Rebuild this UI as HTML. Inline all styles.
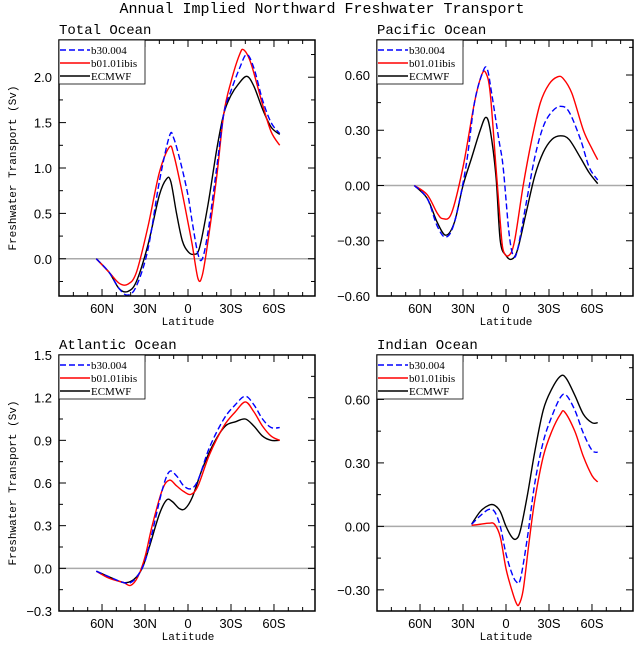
<!DOCTYPE html>
<html><head><meta charset="utf-8"><style>
body{margin:0;background:#fff}
svg text{font-family:"Liberation Serif",serif;fill:#000}
</style></head><body>
<svg id="s" width="639" height="650" xmlns="http://www.w3.org/2000/svg"></svg>
<script>
const S=document.getElementById('s');let h='';
h+='<text x="322" y="13" font-size="15" text-anchor="middle" font-family="Liberation Mono" style="font-family:\'Liberation Mono\',monospace">Annual Implied Northward Freshwater Transport</text>';
function panel(o){
 const L=o.x,T=o.y,W=256,H=256,R=L+W,B=T+H,cx=L+129,k=1.433;
 const X=lat=>cx-lat*k, Y=v=>T+(o.ymax-v)/(o.ymax-o.ymin)*H;
 h+=`<text x="${L}" y="${T-6}" font-size="14" style="font-family:'Liberation Mono',monospace">${o.title}</text>`;
 h+=`<line x1="${L}" x2="${R}" y1="${Y(0)}" y2="${Y(0)}" stroke="#aaa" stroke-width="1.5"/>`;
 const sers=[[o.k,'#000',''],[o.r,'#f00',''],[o.b,'#00f','6,3']];
 for(const [d,c,da] of sers){
  const p=d.map(q=>[X(q[0]),Y(q[1])]);let s=`M${p[0][0]},${p[0][1]}`;
  for(let i=0;i<p.length-1;i++){const p0=p[Math.max(0,i-1)],p1=p[i],p2=p[i+1],p3=p[Math.min(p.length-1,i+2)];
   s+=` C${p1[0]+(p2[0]-p0[0])/6},${p1[1]+(p2[1]-p0[1])/6} ${p2[0]-(p3[0]-p1[0])/6},${p2[1]-(p3[1]-p1[1])/6} ${p2[0]},${p2[1]}`;}
  h+=`<path d="${s}" fill="none" stroke="${c}" stroke-width="1.4" ${da?`stroke-dasharray="${da}"`:''}/>`;
 }
 for(let lat=-80;lat<=80;lat+=10){const x=X(lat),m=lat%30==0,l=m?7:4;
  h+=`<line x1="${x}" x2="${x}" y1="${B}" y2="${B-l}" stroke="#000"/><line x1="${x}" x2="${x}" y1="${T}" y2="${T+l}" stroke="#000"/>`;
  if(m&&Math.abs(lat)<=60){const t=lat==0?'0':Math.abs(lat)+(lat>0?'N':'S');h+=`<text x="${x}" y="${B+17}" font-size="13" text-anchor="middle" style="font-family:'Liberation Sans',sans-serif">${t}</text>`;}}
 h+=`<text x="${cx}" y="${B+29}" font-size="11" text-anchor="middle" style="font-family:'Liberation Mono',monospace">Latitude</text>`;
 const hs=o.step/2;
 for(let i=Math.ceil(o.ymin/hs-1e-6);i*hs<=o.ymax+1e-9;i++){const v=i*hs,y=Y(v);const m=i%2==0,l=m?7:4;
  h+=`<line x1="${L}" x2="${L+l}" y1="${y}" y2="${y}" stroke="#000"/><line x1="${R}" x2="${R-l}" y1="${y}" y2="${y}" stroke="#000"/>`;
  if(m&&v>=o.lmin-1e-9)h+=`<text x="${L-7}" y="${y+5}" font-size="13" text-anchor="end" style="font-family:'Liberation Sans',sans-serif">${(v<-1e-9?'−':'')+Math.abs(v).toFixed(o.dec)}</text>`;}
 if(o.ylab)h+=`<text transform="translate(${L-43},${(T+B)/2}) rotate(-90)" font-size="11" text-anchor="middle" style="font-family:'Liberation Mono',monospace">Freshwater Transport (Sv)</text>`;
 h+=`<rect x="${L}" y="${T}" width="${W}" height="${H}" fill="none" stroke="#000" stroke-width="1.5"/>`;
 h+=`<rect x="${L}" y="${T}" width="86" height="44" fill="#fff" stroke="#000" stroke-width="0.8"/>`;
 const lg=[['b30.004','#00f','6,3'],['b01.01ibis','#f00',''],['ECMWF','#000','']];
 lg.forEach((g,i)=>{const y=T+10+i*13;h+=`<line x1="${L+1}" x2="${L+31}" y1="${y}" y2="${y}" stroke="${g[1]}" stroke-width="1.4" ${g[2]?`stroke-dasharray="${g[2]}"`:''}/><text x="${L+32}" y="${y+4}" font-size="11">${g[0]}</text>`;});
}
panel({x:59,y:40,title:'Total Ocean',ymin:-0.41,ymax:2.41,step:0.5,lmin:0,dec:1,ylab:1,
b:[[64,0],[55,-.15],[48,-.33],[42,-.4],[36,-.3],[28,.1],[20,.85],[13,1.35],[10,1.33],[5,1.05],[0,.7],[-3,.4],[-7,.05],[-10,0],[-14,.3],[-20,1],[-25,1.6],[-30,1.85],[-36,2.1],[-41,2.25],[-46,2.1],[-52,1.75],[-58,1.5],[-64,1.38]],
r:[[64,0],[55,-.15],[48,-.27],[42,-.28],[36,-.15],[28,.35],[20,.95],[13,1.23],[10,1.15],[5,.8],[0,.4],[-3,.15],[-7,-.22],[-10,-.18],[-14,.2],[-20,.9],[-25,1.6],[-30,1.95],[-36,2.25],[-39,2.3],[-44,2.15],[-52,1.7],[-58,1.4],[-64,1.25]],
k:[[64,0],[55,-.15],[48,-.33],[42,-.36],[36,-.25],[28,.15],[20,.7],[15,.88],[12,.85],[8,.5],[4,.2],[0,.08],[-4,.05],[-8,.12],[-14,.6],[-20,1.2],[-25,1.6],[-30,1.8],[-35,1.92],[-41,2.01],[-46,1.9],[-52,1.65],[-58,1.45],[-64,1.37]]});
panel({x:377,y:40,title:'Pacific Ocean',ymin:-0.6,ymax:0.79,step:0.3,lmin:-0.6,dec:2,
b:[[64,0],[55,-.07],[48,-.22],[42,-.28],[36,-.2],[28,.1],[22,.45],[16,.62],[13,.63],[10,.5],[5,.25],[2,.1],[-2,-.25],[-5,-.38],[-8,-.35],[-14,-.1],[-20,.15],[-26,.32],[-32,.4],[-38,.43],[-44,.4],[-52,.25],[-58,.1],[-64,.03]],
r:[[64,0],[55,-.05],[48,-.15],[44,-.18],[38,-.15],[30,.1],[22,.45],[17,.6],[14,.61],[11,.5],[7,.1],[4,-.2],[2,-.35],[-2,-.38],[-6,-.3],[-12,0],[-18,.25],[-24,.45],[-30,.55],[-36,.59],[-40,.58],[-46,.5],[-54,.3],[-60,.2],[-64,.14]],
k:[[64,0],[55,-.07],[48,-.2],[42,-.27],[36,-.2],[30,0],[24,.15],[18,.3],[14,.37],[11,.3],[7,.05],[4,-.3],[0,-.38],[-4,-.4],[-8,-.35],[-14,-.15],[-20,.05],[-26,.18],[-32,.25],[-38,.27],[-44,.25],[-52,.15],[-58,.07],[-64,.01]]});
panel({x:59,y:355,title:'Atlantic Ocean',ymin:-0.3,ymax:1.5,step:0.3,lmin:-0.3,dec:1,ylab:1,
b:[[64,-.02],[55,-.06],[45,-.1],[40,-.1],[35,-.05],[30,.05],[25,.25],[18,.55],[13,.68],[8,.65],[3,.58],[-2,.56],[-7,.62],[-15,.85],[-25,1.05],[-33,1.15],[-40,1.21],[-46,1.15],[-52,1.05],[-58,.99],[-64,.99]],
r:[[64,-.02],[55,-.07],[45,-.1],[40,-.12],[35,-.06],[30,.08],[25,.3],[18,.55],[13,.62],[8,.58],[3,.54],[-2,.52],[-7,.58],[-15,.8],[-25,1],[-33,1.1],[-40,1.17],[-46,1.1],[-52,1],[-58,.93],[-64,.9]],
k:[[64,-.02],[55,-.06],[45,-.1],[38,-.08],[32,0],[27,.15],[20,.38],[15,.48],[11,.47],[6,.42],[2,.42],[-3,.5],[-10,.7],[-18,.88],[-26,1],[-33,1.03],[-40,1.05],[-46,1],[-52,.93],[-58,.9],[-64,.9]]});
panel({x:377,y:355,title:'Indian Ocean',ymin:-0.4,ymax:0.81,step:0.3,lmin:-0.3,dec:2,
k:[[24,.01],[18,.07],[12,.1],[8,.1],[4,.07],[0,0],[-4,-.05],[-7,-.06],[-10,-.02],[-15,.15],[-20,.35],[-26,.55],[-32,.65],[-38,.71],[-42,.7],[-48,.62],[-54,.53],[-60,.49],[-64,.49]],
b:[[24,.01],[18,.05],[12,.08],[8,.07],[4,0],[0,-.13],[-4,-.22],[-7,-.26],[-10,-.25],[-15,-.05],[-20,.2],[-26,.4],[-32,.52],[-38,.61],[-42,.62],[-48,.55],[-54,.44],[-60,.36],[-64,.35]],
r:[[24,.005],[18,.01],[12,.015],[8,.01],[4,-.05],[0,-.2],[-4,-.3],[-7,-.36],[-9,-.37],[-12,-.3],[-16,-.08],[-20,.12],[-26,.33],[-32,.45],[-38,.53],[-41,.54],[-48,.45],[-54,.33],[-60,.24],[-64,.21]]});
S.innerHTML=h;
</script>
</body></html>
